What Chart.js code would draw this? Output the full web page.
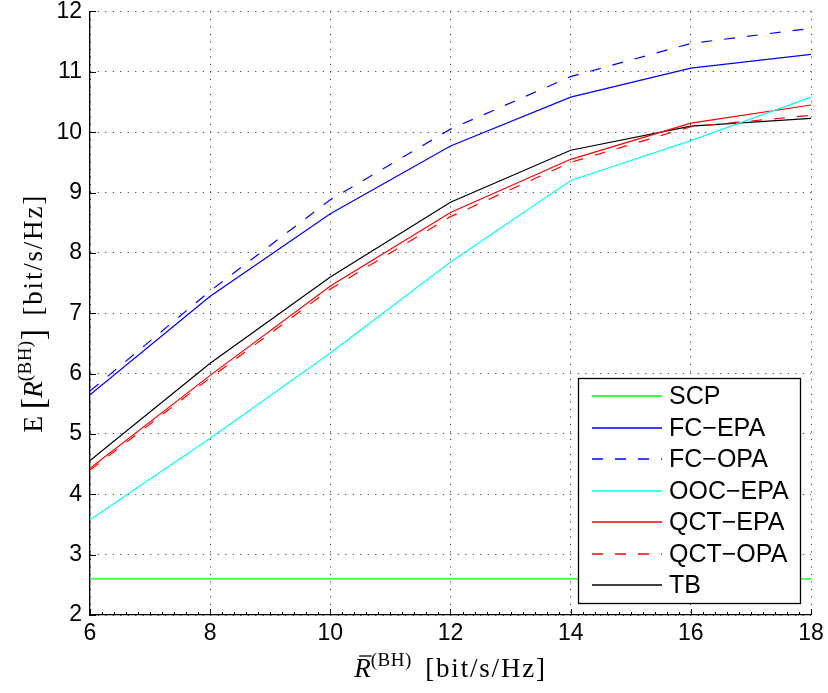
<!DOCTYPE html>
<html>
<head>
<meta charset="utf-8">
<script src="https://cdn.jsdelivr.net/npm/chart.js@4.4.0/dist/chart.umd.min.js"></script>
<style>
  html, body { margin: 0; padding: 0; background: #fff; }
  #wrap { width: 828px; height: 693px; }
</style>
</head>
<body>
<div id="wrap"><canvas id="grafico"></canvas></div>
<script>
// ======== DADOS =========
const xValues = [6, 8, 10, 12, 14, 16, 18];
const scp    = [2.6, 2.6, 2.6, 2.6, 2.6, 2.6, 2.6];
const fcEpa  = [5.65, 7.28, 8.65, 9.77, 10.58, 11.06, 11.29];
const fcOpa  = [5.71, 7.37, 8.88, 10.05, 10.92, 11.47, 11.72];
const oocEpa = [3.58, 4.93, 6.34, 7.85, 9.20, 9.86, 10.58];
const qctEpa = [4.43, 5.97, 7.45, 8.67, 9.55, 10.15, 10.45];
const qctOpa = [4.40, 5.93, 7.40, 8.60, 9.50, 10.09, 10.28];
const tb     = [4.56, 6.17, 7.60, 8.84, 9.70, 10.10, 10.23];

const seriesLabels = ['SCP', 'FC\u2212EPA', 'FC\u2212OPA', 'OOC\u2212EPA', 'QCT\u2212EPA', 'QCT\u2212OPA', 'TB'];
const seriesColors = ['#00ff00', '#0000ff', '#0000ff', '#00ffff', '#ff0000', '#ff0000', '#000000'];
const seriesDashed = [false, false, true, false, false, true, false];
const seriesData = [scp, fcEpa, fcOpa, oocEpa, qctEpa, qctOpa, tb];

const DASH = [11, 12];

const datasets = seriesData.map((vals, i) => ({
  label: seriesLabels[i],
  data: vals.map((y, j) => ({ x: xValues[j], y: y })),
  borderColor: seriesColors[i],
  backgroundColor: seriesColors[i],
  borderWidth: 1.2,
  borderDash: seriesDashed[i] ? DASH : [],
  pointRadius: 0,
  tension: 0,
  fill: false
}));

// ======== TEXTO COM SOBRESCRITO =========
function drawPieces(ctx, pieces, x, y) {
  let total = 0;
  pieces.forEach(p => {
    ctx.font = p.font;
    ctx.letterSpacing = p.ls || '0px';
    p.w = ctx.measureText(p.t).width;
    total += p.w;
  });
  let cx = x - total / 2;
  pieces.forEach(p => {
    ctx.font = p.font;
    ctx.letterSpacing = p.ls || '0px';
    ctx.fillText(p.t, cx, y + (p.dy || 0));
    if (p.bar) {
      ctx.beginPath();
      ctx.lineWidth = 1.3;
      ctx.moveTo(cx + 5, y - 21);
      ctx.lineTo(cx + p.w + 1, y - 21);
      ctx.stroke();
    }
    cx += p.w;
  });
  ctx.letterSpacing = '0px';
}

const serif = '"Liberation Serif", "Times New Roman", serif';
const sans = '"Liberation Sans", Arial, sans-serif';

const extras = {
  id: 'extras',
  afterDraw(chart) {
    const ctx = chart.ctx;
    const xs = chart.scales.x;
    const ys = chart.scales.y;
    const area = chart.chartArea;
    ctx.save();
    ctx.strokeStyle = '#000';
    ctx.fillStyle = '#000';
    ctx.lineWidth = 1;

    // marcas internas
    ctx.beginPath();
    for (let v = 6; v <= 18.001; v += 0.2) {
      const px = Math.round(xs.getPixelForValue(v)) + 0.5;
      const major = Math.abs(v - Math.round(v / 2) * 2) < 0.01;
      ctx.moveTo(px, area.bottom);
      ctx.lineTo(px, area.bottom - (major ? 6 : 3));
    }
    for (let v = 2; v <= 12; v++) {
      const py = Math.round(ys.getPixelForValue(v)) + 0.5;
      ctx.moveTo(area.left, py);
      ctx.lineTo(area.left + 6, py);
    }
    ctx.stroke();

    // títulos dos eixos
    ctx.textBaseline = 'alphabetic';
    drawPieces(ctx, [
      { t: 'R', font: 'italic 27px ' + serif, bar: true },
      { t: '(BH)', font: '19px ' + serif, dy: -11, ls: '0.5px' },
      { t: '  ', font: '27px ' + serif },
      { t: '[bit/s/Hz]', font: '27px ' + serif, ls: '1.8px' }
    ], (area.left + area.right) / 2, 677);

    ctx.save();
    ctx.translate(42, (area.top + area.bottom) / 2);
    ctx.rotate(-Math.PI / 2);
    drawPieces(ctx, [
      { t: 'E', font: '27px ' + serif },
      { t: ' ', font: '27px ' + serif },
      { t: '[', font: '34px ' + serif, dy: 2 },
      { t: 'R', font: 'italic 27px ' + serif },
      { t: '(BH)', font: '19px ' + serif, dy: -11, ls: '0.5px' },
      { t: ']', font: '34px ' + serif, dy: 2 },
      { t: '  ', font: '27px ' + serif },
      { t: '[bit/s/Hz]', font: '27px ' + serif, ls: '1.8px' }
    ], 0, 0);
    ctx.restore();

    // legenda
    const bx = 578, by = 378, bw = 222, bh = 225;
    ctx.fillStyle = '#fff';
    ctx.fillRect(bx, by, bw, bh);
    ctx.strokeStyle = '#000';
    ctx.lineWidth = 1.3;
    ctx.strokeRect(bx + 0.5, by + 0.5, bw, bh);
    ctx.font = '25px ' + sans;
    ctx.textBaseline = 'middle';
    seriesLabels.forEach((lab, i) => {
      const ry = Math.round(396 + i * 31.5);
      ctx.setLineDash(seriesDashed[i] ? DASH : []);
      ctx.strokeStyle = seriesColors[i];
      ctx.lineWidth = 1.6;
      ctx.beginPath();
      ctx.moveTo(592, ry);
      ctx.lineTo(662, ry);
      ctx.stroke();
      ctx.setLineDash([]);
      ctx.fillStyle = '#000';
      ctx.fillText(lab, 669, ry + 1);
    });
    ctx.restore();
  }
};

// ======== GRÁFICO =========
const ctxG = document.getElementById('grafico');
new Chart(ctxG, {
  type: 'line',
  data: { datasets: datasets },
  options: {
    responsive: true,
    maintainAspectRatio: false,
    animation: false,
    layout: { padding: { top: 0, right: 17, left: 0, bottom: 0 } },
    plugins: {
      legend: { display: false },
      tooltip: { enabled: false }
    },
    scales: {
      x: {
        type: 'linear',
        min: 6,
        max: 18,
        afterFit: s => { s.height = 78; s.paddingRight = 12; s.paddingLeft = 0; },
        ticks: {
          stepSize: 2,
          padding: 8,
          color: '#000',
          font: { family: sans, size: 23, lineHeight: 0.95 }
        },
        grid: { color: '#222', lineWidth: 1, drawTicks: false },
        border: { display: true, color: '#000', width: 1.3, dash: [1, 6.5] }
      },
      y: {
        min: 2,
        max: 12,
        afterFit: s => { s.width = 90; },
        ticks: {
          stepSize: 1,
          padding: 8,
          color: '#000',
          font: { family: sans, size: 23, lineHeight: 0.3 }
        },
        grid: { color: '#222', lineWidth: 1, drawTicks: false },
        border: { display: true, color: '#000', width: 1.3, dash: [1, 6.5] }
      }
    }
  },
  plugins: [extras]
});
</script>
</body>
</html>
